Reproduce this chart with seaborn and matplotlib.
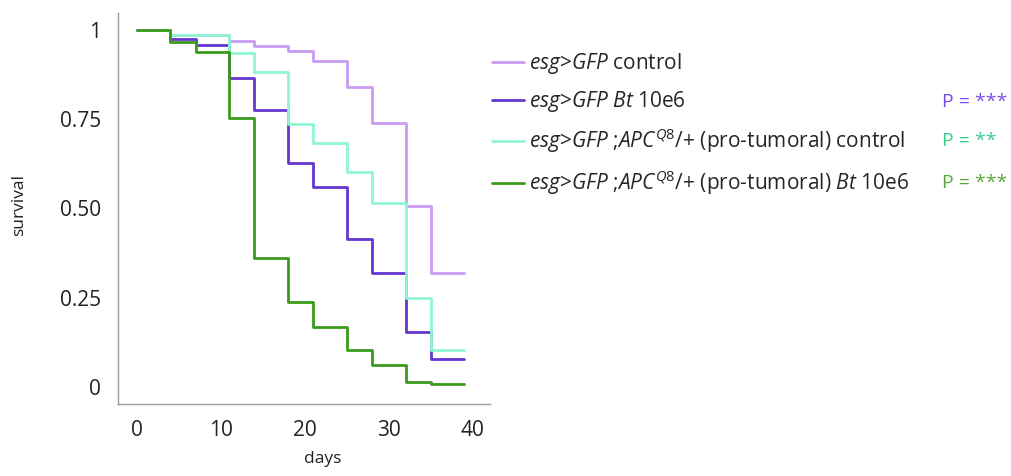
import pandas as pd
import seaborn as sns
import matplotlib.pyplot as plt

# Kaplan-Meier style survival curves
days = [0, 4, 7, 11, 14, 18, 21, 25, 28, 32, 35, 39]
gfp_control = [1.0, 0.986, 0.986, 0.970, 0.956, 0.941, 0.913, 0.840, 0.739, 0.507, 0.318, 0.318]
gfp_bt = [1.0, 0.974, 0.958, 0.865, 0.776, 0.628, 0.559, 0.414, 0.320, 0.153, 0.077, 0.077]
apc_control = [1.0, 0.986, 0.986, 0.935, 0.882, 0.736, 0.684, 0.603, 0.514, 0.250, 0.104, 0.104]
apc_bt = [1.0, 0.965, 0.937, 0.753, 0.362, 0.239, 0.167, 0.105, 0.062, 0.015, 0.008, 0.008]

groups = [
    r"$\mathit{esg}$>$\mathit{GFP}$ control",
    r"$\mathit{esg}$>$\mathit{GFP}$ $\mathit{Bt}$ 10e6",
    r"$\mathit{esg}$>$\mathit{GFP}$ ;$\mathit{APC}^{\mathit{Q8}}$/+ (pro-tumoral) control",
    r"$\mathit{esg}$>$\mathit{GFP}$ ;$\mathit{APC}^{\mathit{Q8}}$/+ (pro-tumoral) $\mathit{Bt}$ 10e6",
]
colors = ["#c99cf3", "#6536d2", "#90f5d2", "#3b9a1c"]
p_labels = ["P = ***", "P = **", "P = ***"]
p_colors = ["#7a4ce6", "#3cc98c", "#5aa83a"]

df = pd.concat([
    pd.DataFrame({"day": days, "survival": vals, "group": g})
    for g, vals in zip(groups, [gfp_control, gfp_bt, apc_control, apc_bt])
])

sns.set_style("white")
plt.rcParams["font.family"] = ["Open Sans", "DejaVu Sans"]
plt.rcParams["mathtext.fontset"] = "custom"
plt.rcParams["mathtext.rm"] = "Open Sans"
plt.rcParams["mathtext.it"] = "Open Sans:italic"

fig = plt.figure(figsize=(10.11, 4.76), dpi=100)
ax = fig.add_axes([0.117, 0.151, 0.368, 0.822])

sns.lineplot(data=df, x="day", y="survival", hue="group", hue_order=groups,
             palette=colors, drawstyle="steps-post", linewidth=2.0, ax=ax)

ax.set_xlim(-2.2, 42.1)
ax.set_ylim(-0.048, 1.048)
ax.set_xticks([0, 10, 20, 30, 40])
ax.set_yticks([0, 0.25, 0.5, 0.75, 1])
ax.set_yticklabels(["0", "0.25", "0.50", "0.75", "1"])

for side in ["top", "right"]:
    ax.spines[side].set_visible(False)
for side in ["left", "bottom"]:
    ax.spines[side].set_color("#9a9a9a")
    ax.spines[side].set_linewidth(1.0)
ax.tick_params(axis="both", direction="out", length=2.5, width=0.8, color="#9a9a9a",
               labelsize=15, labelcolor="#222222")
ax.tick_params(axis="y", pad=10)
ax.tick_params(axis="x", pad=9)

ax.set_xlabel("days", fontsize=12.5, color="#222222")
ax.set_ylabel("survival", fontsize=12.5, color="#222222")
ax.xaxis.set_label_coords(0.55, -0.12)
ax.yaxis.set_label_coords(-0.245, 0.51)

sns.move_legend(ax, "upper left", bbox_to_anchor=(0.487, 0.893),
                bbox_transform=fig.transFigure, frameon=False, title=None,
                fontsize=15, handlelength=1.5, handletextpad=0.25,
                labelspacing=0.62, borderpad=0, borderaxespad=0)
for line in ax.get_legend().get_lines():
    line.set_linewidth(2.0)

for i, (txt, c) in enumerate(zip(p_labels, p_colors)):
    fig.text(0.932, [0.785, 0.704, 0.615][i], txt, color=c, fontsize=14, va="center")

plt.savefig("out.png", dpi=100)
plt.close()
